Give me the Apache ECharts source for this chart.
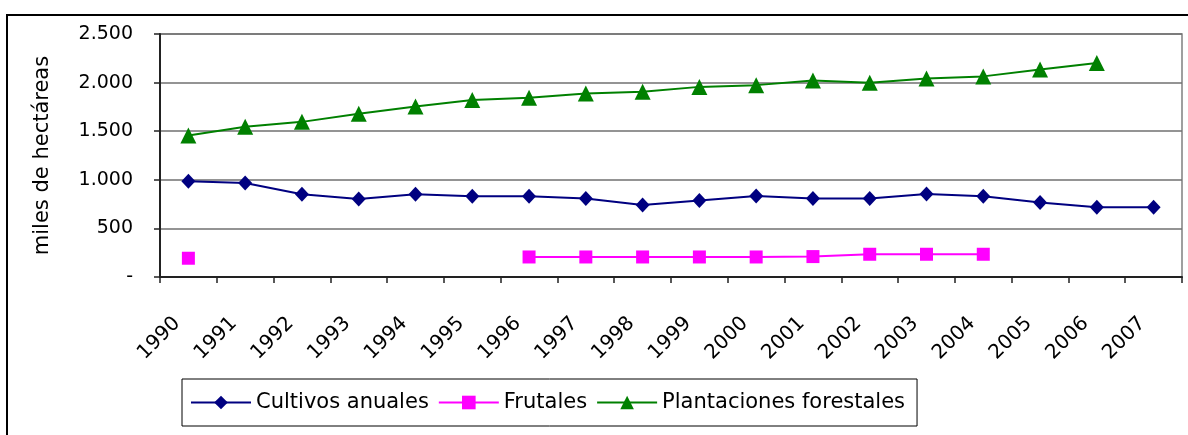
<!DOCTYPE html>
<html>
<head>
<meta charset="utf-8">
<script src="https://cdn.jsdelivr.net/npm/echarts@6/dist/echarts.min.js"></script>
<style>
html,body{margin:0;padding:0;background:#fff;}
#c{width:1188px;height:435px;}
</style>
</head>
<body>
<div id="c"></div>
<script>
const years = ['1990','1991','1992','1993','1994','1995','1996','1997','1998','1999','2000','2001','2002','2003','2004','2005','2006','2007'];
const cultivosAnuales = [985, 968, 852, 803, 852, 831, 831, 807, 741, 787, 834, 807, 807, 855, 831, 766, 718, 718];
const frutales = [193, null, null, null, null, null, 206, 206, 206, 206, 206, 210, 234, 234, 234, null, null, null];
const plantacionesForestales = [1456, 1545, 1596, 1679, 1753, 1820, 1844, 1889, 1907, 1956, 1974, 2021, 1998, 2043, 2064, 2134, 2201, null];
const yTickLabels = ['-', '500', '1.000', '1.500', '2.000', '2.500'];
const seriesNames = ['Cultivos anuales', 'Frutales', 'Plantaciones forestales'];

const FONT = 'DejaVu Sans';
const chart = echarts.init(document.getElementById('c'), null, {renderer: 'canvas'});
chart.setOption({
  backgroundColor: '#fff',
  animation: false,
  graphic: [{
    type: 'rect', silent: true, z: 0,
    shape: {x: 7, y: 15, width: 1300, height: 600},
    style: {fill: 'none', stroke: '#000', lineWidth: 2}
  }],
  grid: {left: 160, right: 6, top: 34, bottom: 158, show: true, borderColor: '#808080', borderWidth: 1.5, backgroundColor: '#fff'},
  legend: {
    left: 182, top: 379,
    padding: [13, 12, 13, 8],
    borderColor: '#000', borderWidth: 1,
    itemWidth: 60, itemHeight: 17, itemGap: 9,
    textStyle: {fontFamily: FONT, fontSize: 21, color: '#000'},
    data: seriesNames
  },
  xAxis: {
    type: 'category', data: years, boundaryGap: true,
    axisLine: {lineStyle: {color: '#222', width: 2}},
    axisTick: {show: true, length: 6, lineStyle: {color: '#222', width: 1.5}},
    axisLabel: {rotate: 45, margin: 32, padding: [0, 16, 0, 0], fontFamily: FONT, fontSize: 20, color: '#000', interval: 0},
    splitLine: {show: false}
  },
  yAxis: {
    type: 'value', min: 0, max: 2500, interval: 500,
    name: 'miles de hectáreas', nameLocation: 'middle', nameGap: 107, nameRotate: 90,
    nameTextStyle: {fontFamily: FONT, fontSize: 21, color: '#000'},
    axisLine: {show: true, lineStyle: {color: '#222', width: 2}},
    axisTick: {show: true, length: 6, lineStyle: {color: '#222', width: 1.5}},
    axisLabel: {margin: 27, fontFamily: FONT, fontSize: 19, color: '#000',
      formatter: v => yTickLabels[Math.round(v / 500)]},
    splitLine: {show: true, lineStyle: {color: '#707070', width: 1.5}}
  },
  series: [
    {name: seriesNames[0], type: 'line', data: cultivosAnuales, color: '#000080',
     symbol: 'diamond', symbolSize: [14, 15], showAllSymbol: true,
     lineStyle: {width: 2, color: '#000080'}, itemStyle: {color: '#000080'}},
    {name: seriesNames[1], type: 'line', data: frutales, color: '#ff00ff', connectNulls: false,
     symbol: 'rect', symbolSize: 13, showAllSymbol: true,
     lineStyle: {width: 2, color: '#ff00ff'}, itemStyle: {color: '#ff00ff'}},
    {name: seriesNames[2], type: 'line', data: plantacionesForestales, color: '#008000',
     symbol: 'triangle', symbolSize: [16, 16], showAllSymbol: true,
     lineStyle: {width: 2, color: '#008000'}, itemStyle: {color: '#008000'}}
  ]
});
</script>
</body>
</html>
